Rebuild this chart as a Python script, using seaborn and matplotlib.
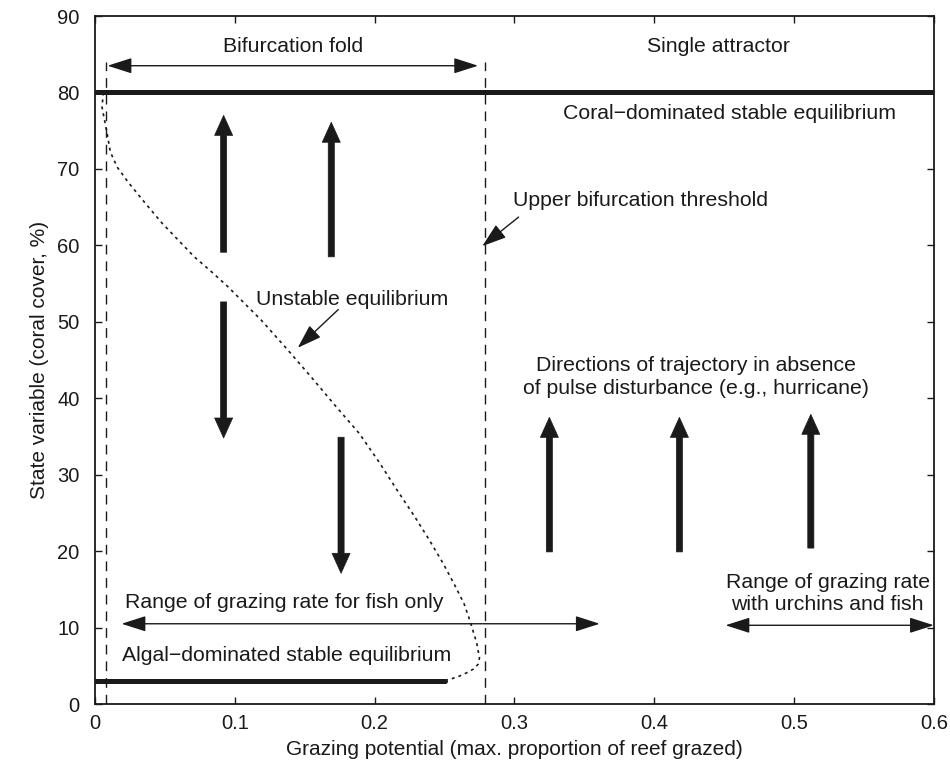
import matplotlib
matplotlib.use("Agg")
import matplotlib.pyplot as plt
import seaborn as sns

# Stable equilibria (grazing potential, coral cover %)
coral_eq_x = [0.0, 0.6]
coral_eq_y = [80, 80]
algal_eq_x = [0.0, 0.25]
algal_eq_y = [3, 3]

# Unstable equilibrium (fold of the bifurcation curve)
unstable_x = [0.006, 0.005, 0.0086, 0.011, 0.016, 0.024, 0.036, 0.048, 0.06, 0.071, 0.083,
              0.095, 0.107, 0.119, 0.137, 0.155, 0.172, 0.189, 0.203, 0.216, 0.228, 0.239,
              0.249, 0.258, 0.264, 0.268, 0.273, 0.275, 0.274, 0.271, 0.266, 0.26, 0.255, 0.25]
unstable_y = [80, 78.1, 74.7, 72.2, 70.2, 68.2, 65.5, 62.9, 60.6, 58.5, 56.6,
              54.6, 52.4, 50.2, 46.5, 42.7, 39.0, 35.4, 31.7, 28.0, 24.7, 21.5,
              18.4, 15.3, 13.1, 11.0, 8.0, 6.0, 5.2, 4.6, 4.1, 3.6, 3.3, 3.1]

# Bifurcation thresholds (dashed verticals)
lower_threshold = 0.008
upper_threshold = 0.279
threshold_top = 84

# Trajectory arrows: x, start, end
traj_x = [0.092, 0.169, 0.092, 0.176, 0.325, 0.418, 0.512]
traj_start = [59.1, 58.5, 52.6, 34.9, 19.9, 19.9, 20.4]
traj_end = [77.0, 76.1, 34.8, 17.1, 37.5, 37.5, 37.9]

# Range bars (double-headed arrows): x0, x1, y
fold_range = (0.009, 0.274, 83.5)
fish_range = (0.019, 0.361, 10.5)
urchin_range = (0.451, 0.6, 10.3)

x_ticks = [0, 0.1, 0.2, 0.3, 0.4, 0.5, 0.6]
x_tick_labels = ["0", "0.1", "0.2", "0.3", "0.4", "0.5", "0.6"]
y_ticks = list(range(0, 91, 10))

sns.set_theme(style="ticks", rc={
    "xtick.direction": "in", "ytick.direction": "in",
    "xtick.top": True, "ytick.right": True,
    "xtick.major.size": 5, "ytick.major.size": 5,
    "xtick.major.width": 1.0, "ytick.major.width": 1.0,
    "axes.linewidth": 1.3, "axes.edgecolor": "#1a1a1a",
})
plt.rcParams["font.family"] = ["Liberation Sans", "DejaVu Sans"]

fig = plt.figure(figsize=(9.5, 7.63), dpi=100)
ax = fig.add_axes([0.1, 0.0773, 0.883, 0.9017])

ink = "#1a1a1a"

sns.lineplot(x=coral_eq_x, y=coral_eq_y, ax=ax, color=ink, lw=3.6, sort=False, estimator=None)
sns.lineplot(x=algal_eq_x, y=algal_eq_y, ax=ax, color=ink, lw=3.6, sort=False, estimator=None)
sns.lineplot(x=unstable_x, y=unstable_y, ax=ax, color=ink, lw=1.2,
             linestyle=(0, (1.8, 2.4)), sort=False, estimator=None)

for xv in (lower_threshold, upper_threshold):
    sns.lineplot(x=[xv, xv], y=[0, threshold_top], ax=ax, color=ink, lw=1.0,
                 linestyle=(0, (7, 5)), sort=False, estimator=None)

# thick trajectory arrows
for xv, y0, y1 in zip(traj_x, traj_start, traj_end):
    ax.annotate("", xy=(xv, y1), xytext=(xv, y0),
                arrowprops=dict(arrowstyle="simple,head_length=0.72,head_width=0.65,tail_width=0.22",
                                mutation_scale=20, color=ink, shrinkA=0, shrinkB=0, lw=0.5))

# range double arrows
for x0, x1, yv in (fold_range, fish_range, urchin_range):
    ax.annotate("", xy=(x1, yv), xytext=(x0, yv),
                arrowprops=dict(arrowstyle="<|-|>,head_length=1.5,head_width=0.48",
                                mutation_scale=10, color=ink, lw=1.0, shrinkA=0, shrinkB=0))

fs = 15.3
ax.text(0.142, 86.0, "Bifurcation fold", ha="center", va="center", fontsize=fs, color=ink)
ax.text(0.446, 86.0, "Single attractor", ha="center", va="center", fontsize=fs, color=ink)
ax.text(0.454, 77.3, "Coral\u2212dominated stable equilibrium", ha="center", va="center",
        fontsize=fs, color=ink)
ax.text(0.299, 65.9, "Upper bifurcation threshold", ha="left", va="center", fontsize=fs, color=ink)
ax.annotate("", xy=(0.277, 59.9), xytext=(0.303, 63.7),
            arrowprops=dict(arrowstyle="-|>,head_length=1.5,head_width=0.5",
                            mutation_scale=10, color=ink, lw=1.0, shrinkA=0, shrinkB=0))
ax.text(0.184, 52.9, "Unstable equilibrium", ha="center", va="center", fontsize=fs, color=ink)
ax.annotate("", xy=(0.145, 46.6), xytext=(0.174, 51.6),
            arrowprops=dict(arrowstyle="-|>,head_length=1.5,head_width=0.5",
                            mutation_scale=10, color=ink, lw=1.0, shrinkA=0, shrinkB=0))
ax.text(0.43, 42.8, "Directions of trajectory in absence\nof pulse disturbance (e.g., hurricane)",
        ha="center", va="center", fontsize=fs, color=ink, multialignment="center",
        linespacing=1.25)
ax.text(0.135, 13.3, "Range of grazing rate for fish only", ha="center", va="center",
        fontsize=fs, color=ink)
ax.text(0.524, 14.5, "Range of grazing rate\nwith urchins and fish", ha="center", va="center",
        fontsize=fs, color=ink, multialignment="center", linespacing=1.2)
ax.text(0.137, 6.4, "Algal\u2212dominated stable equilibrium", ha="center", va="center",
        fontsize=fs, color=ink)

ax.set_xlim(0, 0.6)
ax.set_ylim(0, 90)
ax.set_xticks(x_ticks)
ax.set_xticklabels(x_tick_labels)
ax.set_yticks(y_ticks)
ax.tick_params(axis="x", labelsize=14.5, colors=ink, pad=7)
ax.tick_params(axis="y", labelsize=14.5, colors=ink, pad=11)
ax.set_xlabel("Grazing potential (max. proportion of reef grazed)", fontsize=15, color=ink,
              labelpad=5)
ax.set_ylabel("State variable (coral cover, %)", fontsize=15, color=ink, labelpad=6)

fig.savefig("out.png", dpi=100)
